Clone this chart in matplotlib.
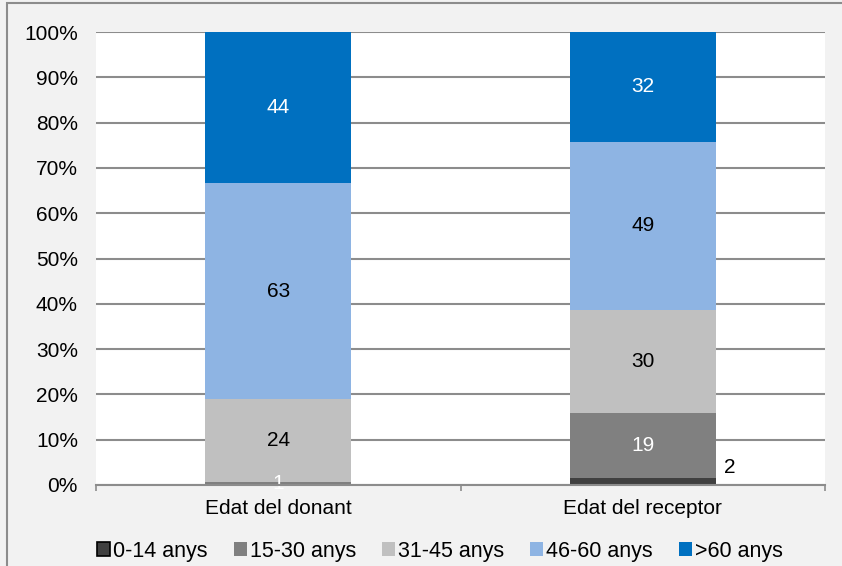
import numpy as np
import matplotlib
matplotlib.use("Agg")
from matplotlib import pyplot as plt
from matplotlib.patches import Rectangle

plt.rcParams['font.family'] = ['Liberation Sans', 'DejaVu Sans']

# data
categories = ['Edat del donant', 'Edat del receptor']
groups = ['0-14 anys', '15-30 anys', '31-45 anys', '46-60 anys', '>60 anys']
counts = np.array([
    [0, 2],     # 0-14
    [1, 19],    # 15-30
    [24, 30],   # 31-45
    [63, 49],   # 46-60
    [44, 32],   # >60
])
colors = ['#404040', '#808080', '#c0c0c0', '#8eb4e3', '#0070c0']
label_colors = ['white', 'white', 'black', 'black', 'white']

pct = counts / counts.sum(axis=0) * 100

fig = plt.figure(figsize=(8.42, 5.66), dpi=100)
fig.patch.set_facecolor('#f2f2f2')
# outer chart border (only top/left visible)
fig.patches.append(Rectangle((7 / 842, -0.2), 1.2, 1.2 - 3 / 566,
                             transform=fig.transFigure, fill=False,
                             edgecolor='#8c8c8c', linewidth=1.5))

ax = fig.add_axes([96 / 842, 1 - 485 / 566, (825 - 96) / 842, (485 - 32) / 566])
ax.set_facecolor('white')

x = np.arange(len(categories))
width = 0.4
bottom = np.zeros(len(categories))
for i, g in enumerate(groups):
    ax.bar(x, pct[i], width, bottom=bottom, color=colors[i],
           linewidth=0.0, label=g, zorder=3)
    for j in range(len(categories)):
        v = counts[i, j]
        if v == 0:
            continue
        mid = bottom[j] + pct[i, j] / 2
        if i == 0:
            # small segment label placed outside to the right
            ax.text(x[j] + width / 2 + 0.022, bottom[j] + pct[i, j] + 2.3, str(v),
                    ha='left', va='center', fontsize=15, color='black', zorder=4)
        else:
            ax.text(x[j], mid, str(v), ha='center', va='center', fontsize=15,
                    color=label_colors[i], zorder=4)
    bottom += pct[i]

ax.set_xlim(-0.5, len(categories) - 0.5)
ax.set_ylim(0, 100)
ax.set_yticks(np.arange(0, 101, 10))
ax.set_yticklabels([f'{v}%' for v in range(0, 101, 10)], fontsize=15)
ax.tick_params(axis='y', length=0, pad=13)
ax.yaxis.grid(True, color='#8c8c8c', linewidth=1.5, zorder=0)
ax.set_axisbelow(True)

ax.set_xticks(np.arange(-0.5, len(categories), 1.0))
ax.set_xticklabels([])
ax.set_xticks(x, minor=True)
ax.set_xticklabels(categories, minor=True, fontsize=15)
ax.tick_params(axis='x', which='major', length=4, width=1.2, color='#8c8c8c', direction='out')
ax.tick_params(axis='x', which='minor', length=0, pad=10)

for s in ['top', 'right', 'left']:
    ax.spines[s].set_visible(False)
ax.spines['bottom'].set_color('#8c8c8c')
ax.spines['bottom'].set_linewidth(1.5)
ax.spines['bottom'].set_zorder(5)

handles, labels = ax.get_legend_handles_labels()
leg = fig.legend(handles, labels, loc='center', bbox_to_anchor=(440 / 842, 1 - 551 / 566),
                 ncol=5, frameon=False, fontsize=15.5, handlelength=0.6, handleheight=0.6,
                 handletextpad=0.15, columnspacing=1.2, borderpad=0)
# dark legend square has a black outline in the original
leg.legend_handles[0].set_edgecolor('black')
leg.legend_handles[0].set_linewidth(1.2)

fig.savefig('out.png', dpi=100, facecolor=fig.get_facecolor())
